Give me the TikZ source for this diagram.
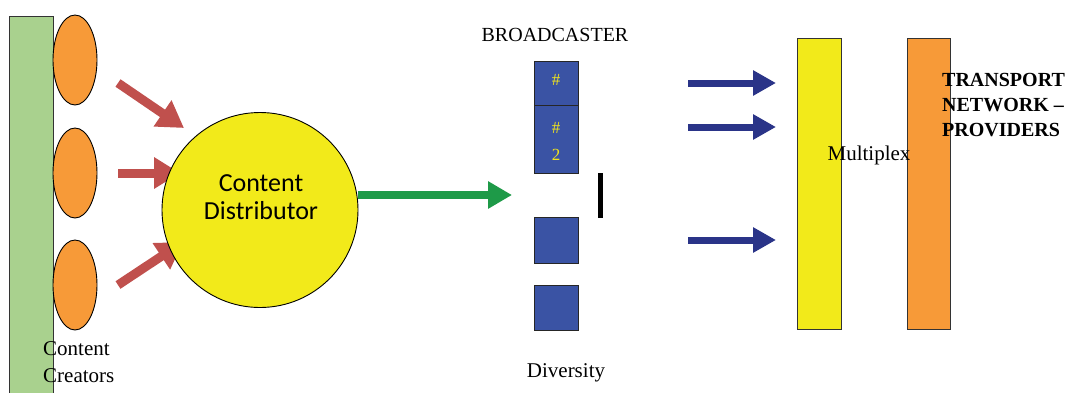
\documentclass[tikz,border=0pt]{standalone}
\usepackage{fontspec}
\setmainfont{Liberation Serif}
\newfontfamily\calib{Carlito}
\usetikzlibrary{arrows.meta,shapes.geometric}
\definecolor{cgreen}{HTML}{A9D18E}
\definecolor{corange}{HTML}{F79A38}
\definecolor{cyellow}{HTML}{F2EA1A}
\definecolor{cblue}{HTML}{3A53A4}
\definecolor{cred}{HTML}{C0504D}
\definecolor{cgarrow}{HTML}{1E9A48}
\definecolor{cnavy}{HTML}{2A3488}
\definecolor{ctext}{HTML}{F2E51C}
\tikzset{
  bar/.style={draw=black!80,line width=0.8pt,rectangle,inner sep=0pt},
  creator/.style={draw=black,line width=0.9pt,ellipse,fill=corange,minimum width=44pt,minimum height=90pt,inner sep=0pt},
  bbox/.style={draw=black!85,line width=0.8pt,rectangle,fill=cblue,minimum width=44pt,inner sep=0pt},
  distr/.style={draw=black,line width=0.9pt,ellipse,fill=cyellow,minimum width=196pt,minimum height=195pt,inner sep=0pt},
  redarrow/.style={draw=cred,line width=9pt,-{Triangle[length=26pt,width=30pt]}},
  navyarrow/.style={draw=cnavy,line width=7pt,-{Triangle[length=23pt,width=24pt]}},
  greenarrow/.style={draw=cgarrow,line width=8pt,-{Triangle[length=24pt,width=26pt]}},
  lbl/.style={inner sep=0pt,font=\fontsize{21}{27}\selectfont},
  hashlbl/.style={inner sep=0pt,text=ctext,font=\fontsize{17}{20}\selectfont}
}
\begin{document}
\begin{tikzpicture}[x=1pt,y=-1pt]
\useasboundingbox (0,0) rectangle (1069,392);
% green bar
\node[bar,fill=cgreen,minimum width=44pt,minimum height=380pt,anchor=north west] (gbar) at (9,16) {};
% creators
\node[creator] (c1) at (75,60) {};
\node[creator] (c2) at (75,173) {};
\node[creator] (c3) at (75,285) {};
% red arrows
\coordinate (r1s) at (118,83); \coordinate (r1e) at (184,128);
\coordinate (r2s) at (118,173); \coordinate (r2e) at (180,173);
\coordinate (r3s) at (118,285); \coordinate (r3e) at (183,242);
\draw[redarrow] (r1s) -- (r1e);
\draw[redarrow] (r2s) -- (r2e);
\draw[redarrow] (r3s) -- (r3e);
% distributor
\node[distr] (dist) at (260,210) {};
\node[inner sep=0pt,align=center,font=\calib\fontsize{26}{28}\selectfont] (disttxt) at (261,197) {Content\\Distributor};
% green arrow
\coordinate (ge) at (512,195);
\draw[greenarrow] (dist.east |- ge) -- (ge);
% broadcaster
\node[inner sep=0pt,font=\fontsize{20}{24}\selectfont] (bc) at (555,35) {BROADCASTER};
\node[bbox,minimum height=44pt,anchor=north west] (b1) at (534,61) {};
\node[bbox,minimum height=68pt,anchor=north west] (b2) at (534,105) {};
\node[hashlbl] (h1) at (556,80) {\#};
\node[hashlbl] (h2) at (556,128) {\#};
\node[hashlbl] (h3) at (556,155) {2};
\node[fill=black,minimum width=5pt,minimum height=45pt,inner sep=0pt] (vbar) at (600,195) {};
\node[bbox,minimum height=46pt,anchor=north west] (b3) at (534,217) {};
\node[bbox,minimum height=45pt,anchor=north west] (b4) at (534,285) {};
\node[lbl] (div) at (566,373) {Diversity};
% navy arrows
\coordinate (n1s) at (688,83); \coordinate (n1e) at (776,83);
\coordinate (n2s) at (688,127); \coordinate (n2e) at (776,127);
\coordinate (n3s) at (688,240); \coordinate (n3e) at (776,240);
\draw[navyarrow] (n1s) -- (n1e);
\draw[navyarrow] (n2s) -- (n2e);
\draw[navyarrow] (n3s) -- (n3e);
% multiplex and transport
\node[bar,fill=cyellow,minimum width=44pt,minimum height=291pt,anchor=north west] (mux) at (797,38) {};
\node[bar,fill=corange,minimum width=43pt,minimum height=291pt,anchor=north west] (tn) at (907,38) {};
\node[lbl] (muxtxt) at (869,155) {Multiplex};
\node[inner sep=0pt,anchor=west,align=left,font=\bfseries\fontsize{20}{25}\selectfont] (tntxt) at (942,105) {TRANSPORT\\NETWORK --\\PROVIDERS};
\node[inner sep=0pt,anchor=west,align=left,font=\fontsize{21}{27}\selectfont] (cc) at (43,362) {Content\\Creators};
\end{tikzpicture}
\end{document}
